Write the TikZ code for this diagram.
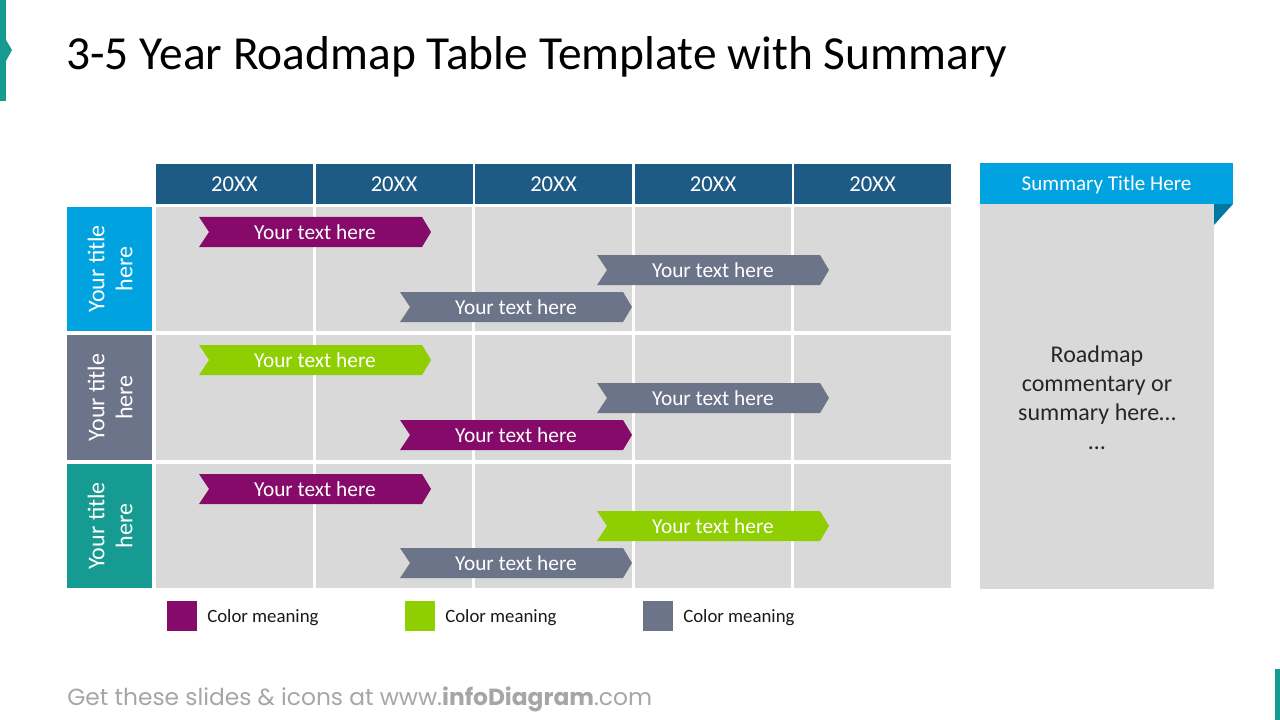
\documentclass[tikz,border=0pt]{standalone}
\usepackage{fontspec}
\setmainfont{Carlito}
\newfontfamily\footfont{Poppins}
\definecolor{teal1}{HTML}{169B92}
\definecolor{cyan1}{HTML}{00A3E0}
\definecolor{hdrblue}{HTML}{1D5A84}
\definecolor{slate}{HTML}{6B7489}
\definecolor{purp}{HTML}{850A69}
\definecolor{grn}{HTML}{8FCE00}
\definecolor{cellgray}{HTML}{D9D9D9}
\definecolor{folddark}{HTML}{0078A0}
\definecolor{footgray}{HTML}{A6A6A6}
\newcommand{\chev}[5]{%
  \fill[#4] (#1,#3-15) -- (#2-9,#3-15) -- (#2,#3) -- (#2-9,#3+15) -- (#1,#3+15) -- (#1+10,#3) -- cycle;
  \node[chevtext] (#5) at ({(#1+#2)/2},#3) {Your text here};}
\tikzset{
  chevtext/.style={text=white, font=\fontsize{16}{18}\selectfont, inner sep=0pt},
  hdrcell/.style={fill=hdrblue, text=white, font=\fontsize{17}{19}\selectfont, inner sep=0pt, minimum width=157*0.75pt, minimum height=40*0.75pt},
  rowlabel/.style={text=white, rotate=90, align=center, font=\fontsize{18}{21}\selectfont, inner sep=0pt},
  legtext/.style={anchor=west, font=\fontsize{14.1}{16}\selectfont, inner sep=0pt, text=black!90},
}
\begin{document}
\begin{tikzpicture}[x=0.75pt, y=-0.75pt]
\useasboundingbox (0,0) rectangle (1280,720);
% accents
\fill[teal1] (0,0) rectangle (6,101);
\fill[teal1] (6,40) -- (12,50) -- (6,61) -- cycle;
\fill[teal1] (1275,669) rectangle (1280,720);
% title
\node[anchor=base west, inner sep=0pt, font=\fontsize{35.6}{40}\selectfont] (title) at (66,70) {3-5 Year Roadmap Table Template with Summary};
% header cells
\node[hdrcell] (h1) at (234.5,184.5) {20XX};
\node[hdrcell] (h2) at (394,184.5) {20XX};
\node[hdrcell] (h3) at (553.5,184.5) {20XX};
\node[hdrcell] (h4) at (713,184.5) {20XX};
\node[hdrcell] (h5) at (872.5,184.5) {20XX};
% grid cells
\foreach \xa/\xb in {156/313,316/472,475/632,635/791,794/951}{
  \foreach \ya/\yb in {207/331,335/460,464/588}{
    \fill[cellgray] (\xa,\ya) rectangle (\xb,\yb);
  }
}
% row labels
\fill[cyan1] (67,207) rectangle (152,331);
\fill[slate] (67,335) rectangle (152,460);
\fill[teal1] (67,464) rectangle (152,588);
\node[rowlabel] (r1) at (110,269) {Your title\\here};
\node[rowlabel] (r2) at (110,397.5) {Your title\\here};
\node[rowlabel] (r3) at (110,526) {Your title\\here};
% chevrons
\chev{199}{431}{232}{purp}{a11}
\chev{597}{829}{270}{slate}{a12}
\chev{400}{632}{307}{slate}{a13}
\chev{199}{431}{360}{grn}{a21}
\chev{597}{829}{398}{slate}{a22}
\chev{400}{632}{435}{purp}{a23}
\chev{199}{431}{489}{purp}{a31}
\chev{597}{829}{526}{grn}{a32}
\chev{400}{632}{563}{slate}{a33}
% summary
\fill[cellgray] (980,204) rectangle (1214,589);
\fill[folddark] (1214,204) -- (1233,204) -- (1214,225) -- cycle;
\fill[cyan1] (980,163) rectangle (1233,204);
\node[text=white, font=\fontsize{15.8}{18}\selectfont, inner sep=0pt] (sumt) at (1106.5,185) {Summary Title Here};
\node[align=center, text=black!85, font=\fontsize{18}{21.75}\selectfont, inner sep=0pt] (sumb) at (1097,398) {Roadmap\\commentary or\\summary here…\\…};
% legend
\fill[purp] (167,601) rectangle (197,631);
\node[legtext] (l1) at (207,617.5) {Color meaning};
\fill[grn] (405,601) rectangle (435,631);
\node[legtext] (l2) at (445,617.5) {Color meaning};
\fill[slate] (643,601) rectangle (673,631);
\node[legtext] (l3) at (683,617.5) {Color meaning};
% footer
\node[anchor=west, inner sep=0pt, text=footgray, font=\footfont\fontsize{17.5}{20}\selectfont] (foot) at (67,699) {Get these slides \& icons at www.\textbf{infoDiagram}.com};
\end{tikzpicture}
\end{document}
